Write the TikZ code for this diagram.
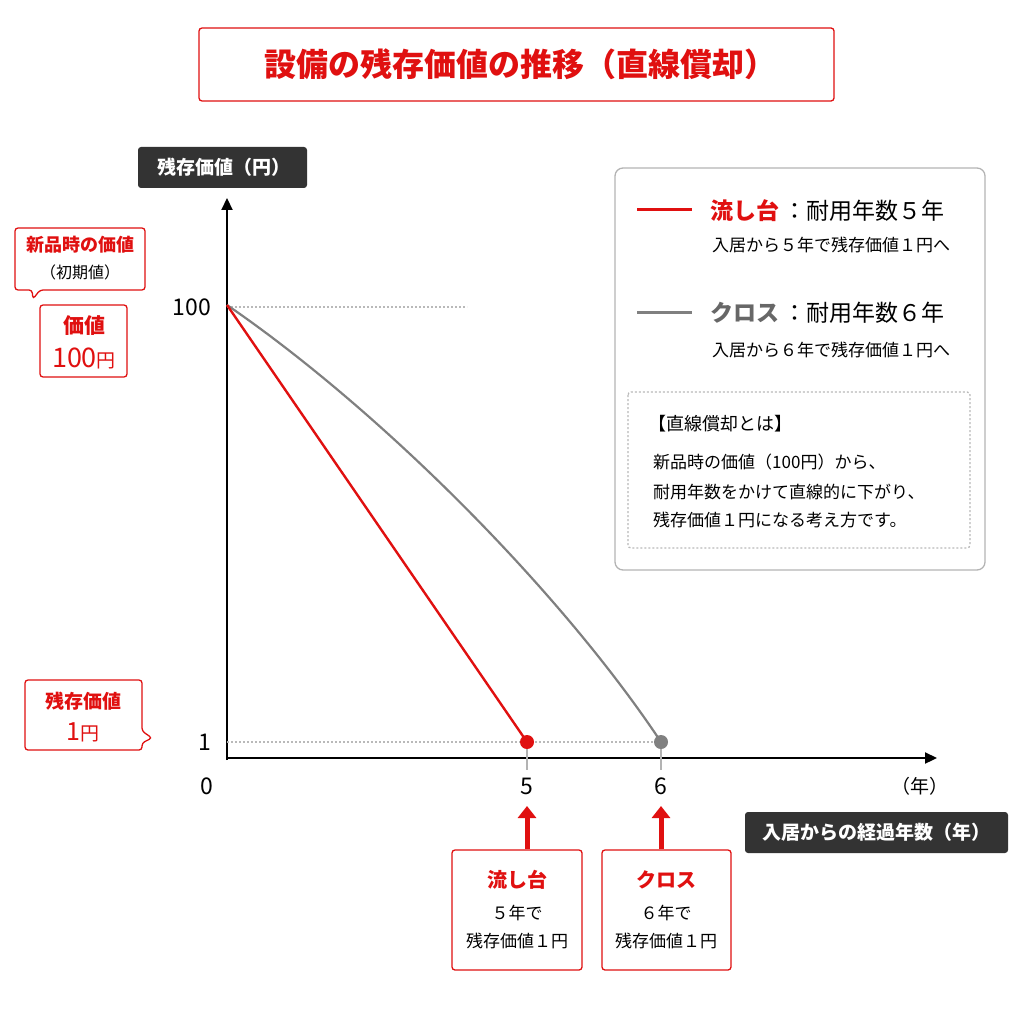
\documentclass[tikz,border=0pt]{standalone}
\usepackage{fontspec}
\setmainfont{Noto Sans CJK JP}
\usetikzlibrary{arrows.meta}
\definecolor{myred}{HTML}{E01010}
\definecolor{mygray}{HTML}{808080}
\definecolor{dark}{HTML}{333333}
\begin{document}
\begin{tikzpicture}[x=1pt,y=-1pt,
  rbox/.style={draw=myred,line width=1.3pt,fill=white,rounded corners=3pt},
  dbox/.style={fill=dark,rounded corners=3pt},
  t/.style={font=\fontsize{#1}{#1}\selectfont,inner sep=0pt},
  dotl/.style={mygray!55,dash pattern=on 2pt off 2pt,line width=1.5pt}]
\useasboundingbox (0,0) rectangle (1024,1024);
% title
\draw[rbox] (199,28) rectangle (834,101);
\node[t=32,text=myred,font=\bfseries\fontsize{32}{32}\selectfont] (title) at (520,64) {設備の残存価値の推移（直線償却）};
% y axis label
\fill[dbox] (138,147) rectangle (307,188);
\node[t=19,text=white,font=\bfseries\fontsize{19}{19}\selectfont] (ylab) at (224,167) {残存価値（円）};
% axes
\coordinate (ytop) at (227,198);
\coordinate (xend) at (937,758);
\draw[line width=2.2pt,-{Triangle[length=12pt,width=11pt]}] (227,760) -- (ytop);
\draw[line width=2.2pt,-{Triangle[length=12pt,width=11pt]}] (226,758) -- (xend);
\coordinate (p100) at (227,307);
\coordinate (p100e) at (467,307);
\coordinate (p1) at (227,742);
\coordinate (p1e) at (660,742);
\draw[dotl] (p100) -- (p100e);
\draw[dotl] (p1) -- (p1e);
\node[t=23] (l100) at (192,307) {100};
\node[t=23] (l1) at (205,742) {1};
\node[t=23] (l0) at (207,786) {0};
\node[t=23] (l5) at (527,786) {5};
\node[t=23] (l6) at (661,786) {6};
\node[t=19] (nen) at (920,786) {（年）};
\draw[mygray!60,line width=1.3pt] (527,747) -- (527,770) (661,747) -- (661,770);
% lines
\coordinate (start) at (227,305);
\coordinate (e5) at (527,742);
\coordinate (e6) at (661,742);
\draw[mygray,line width=2.2pt] (start) .. controls (380,410) and (560,590) .. (e6);
\draw[myred,line width=2.4pt] (start) -- (e5);
\fill[myred] (e5) circle (7);
\fill[mygray] (e6) circle (7);
% left callouts
\draw[rbox,rounded corners=3pt] (15,228) -- (145,228) -- (145,290) -- (40,290) -- (33,299) -- (32,290) -- (15,290) -- cycle;
\node[t=18,text=myred,font=\bfseries\fontsize{18}{18}\selectfont] (c1a) at (80,245) {新品時の価値};
\node[t=16] (c1b) at (80,272) {（初期値）};
\draw[rbox] (40,305) rectangle (127,377);
\node[t=21,text=myred,font=\bfseries\fontsize{21}{21}\selectfont] (c2a) at (84,326) {価値};
\node[t=27,text=myred,font=\fontsize{27}{27}\selectfont] (c2b) at (84,358) {100{\fontsize{19}{19}\selectfont 円}};
\draw[rbox,rounded corners=3pt] (25,680) -- (142,680) -- (142,731) -- (152,738) -- (142,743) -- (142,750) -- (25,750) -- cycle;
\node[t=19,text=myred,font=\bfseries\fontsize{19}{19}\selectfont] (c3a) at (83,701) {残存価値};
\node[t=25,text=myred,font=\fontsize{25}{25}\selectfont] (c3b) at (83,732) {1{\fontsize{19}{19}\selectfont 円}};
% legend
\draw[mygray!60,line width=1.3pt,rounded corners=8pt] (615,168) rectangle (985,570);
\draw[myred,line width=3pt] (637,210) -- (692,210);
\node[t=23,anchor=west] (lg1) at (710,211) {{\bfseries\color{myred}流し台\,}：耐用年数５年};
\node[t=17,anchor=west] (lg1b) at (712,245) {入居から５年で残存価値１円へ};
\draw[mygray,line width=3pt] (637,312) -- (692,312);
\node[t=23,anchor=west] (lg2) at (710,313) {{\bfseries\color{mygray!80!black}クロス\,}：耐用年数６年};
\node[t=17,anchor=west] (lg2b) at (712,350) {入居から６年で残存価値１円へ};
\draw[dotl,line width=1.3pt,rounded corners=3pt] (628,392) rectangle (970,548);
\node[t=18,anchor=west] (d1) at (648,424) {【直線償却とは】};
\node[t=17,anchor=west] (d2) at (653,462) {新品時の価値（100円）から、};
\node[t=17,anchor=west] (d3) at (653,492) {耐用年数をかけて直線的に下がり、};
\node[t=17,anchor=west] (d4) at (653,520) {残存価値１円になる考え方です。};
% x label
\fill[dbox] (745,812) rectangle (1008,853);
\node[t=19,text=white,font=\bfseries\fontsize{19}{19}\selectfont] (xlab) at (876,832) {入居からの経過年数（年）};
% bottom boxes
\draw[rbox] (452,850) rectangle (582,970);
\draw[rbox] (602,850) rectangle (731,970);
\node[t=20,text=myred,font=\bfseries\fontsize{20}{20}\selectfont] (b1) at (517,880) {流し台};
\node[t=17] (b1b) at (517,913) {５年で};
\node[t=17] (b1c) at (517,941) {残存価値１円};
\node[t=20,text=myred,font=\bfseries\fontsize{20}{20}\selectfont] (b2) at (666,880) {クロス};
\node[t=17] (b2b) at (666,913) {６年で};
\node[t=17] (b2c) at (666,941) {残存価値１円};
\coordinate (a1s) at (527,849);
\coordinate (a1e) at (527,806);
\coordinate (a2s) at (661,849);
\coordinate (a2e) at (661,806);
\draw[myred,line width=5pt,-{Triangle[length=12pt,width=18pt]}] (a1s) -- (a1e);
\draw[myred,line width=5pt,-{Triangle[length=12pt,width=18pt]}] (a2s) -- (a2e);
\end{tikzpicture}
\end{document}
